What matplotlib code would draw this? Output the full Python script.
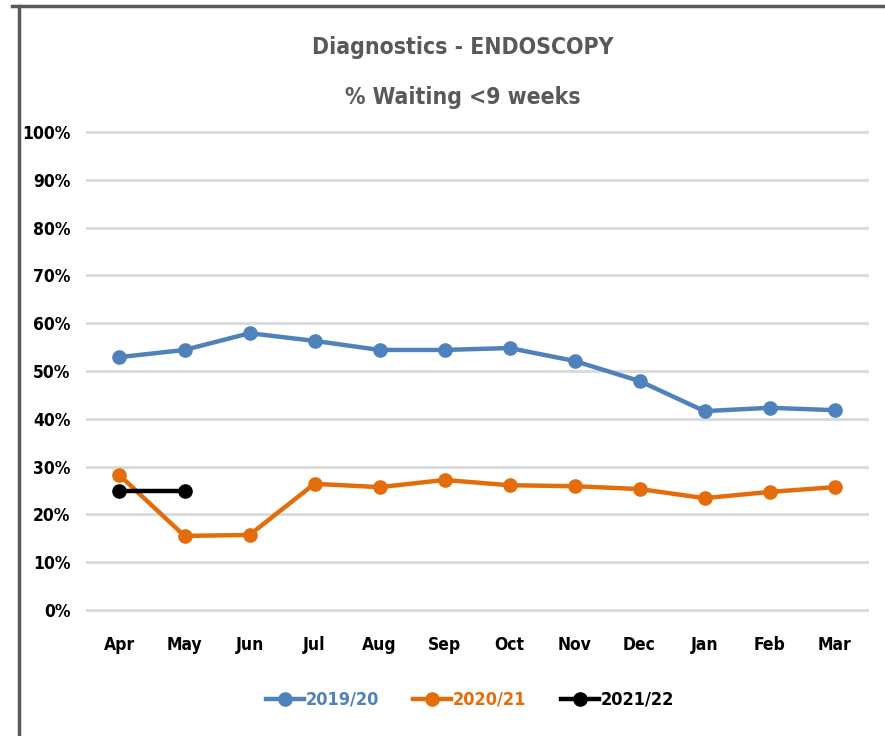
import matplotlib.pyplot as plt
from matplotlib.lines import Line2D
from matplotlib.ticker import PercentFormatter

months = ["Apr", "May", "Jun", "Jul", "Aug", "Sep", "Oct", "Nov", "Dec", "Jan", "Feb", "Mar"]
y2019 = [52.9, 54.4, 57.9, 56.3, 54.4, 54.4, 54.8, 52.1, 47.9, 41.6, 42.3, 41.8]
y2020 = [28.2, 15.5, 15.7, 26.4, 25.7, 27.2, 26.1, 25.9, 25.3, 23.4, 24.7, 25.7]
y2021 = [24.9, 24.9]

series = [("2019/20", y2019, "#4f81bd"), ("2020/21", y2020, "#e46c0a"), ("2021/22", y2021, "#000000")]

plt.rcParams["font.family"] = ["DejaVu Sans"]
plt.rcParams["font.stretch"] = "condensed"

fig = plt.figure(figsize=(8.85, 7.36), dpi=100)
ax = fig.add_axes([0.0983, 0.1712, 0.8814, 0.6495])

x = list(range(len(months)))
for name, vals, col in series:
    ax.plot(x[:len(vals)], vals, color=col, lw=3.2, marker="o", markersize=9.5, label=name)

ax.set_xlim(-0.5, 11.5)
ax.set_ylim(0, 100)
ax.set_yticks(range(0, 101, 10))
ax.yaxis.set_major_formatter(PercentFormatter(decimals=0))
ax.set_xticks(x)
ax.set_xticklabels(months)
ax.grid(axis="y", color="#d9d9d9", lw=2)
for gl in ax.get_ygridlines():
    gl.set_clip_on(False)
ax.set_axisbelow(True)
for s in ax.spines.values():
    s.set_visible(False)
ax.tick_params(length=0, labelsize=12.5)
ax.tick_params(axis="y", pad=12)
ax.tick_params(axis="x", pad=19)
for lab in ax.get_xticklabels() + ax.get_yticklabels():
    lab.set_fontweight("bold")

fig.text(0.523, 0.936, "Diagnostics - ENDOSCOPY", ha="center", va="center",
         fontsize=16.5, fontweight="bold", color="#595959")
fig.text(0.523, 0.868, "% Waiting <9 weeks", ha="center", va="center",
         fontsize=16.5, fontweight="bold", color="#595959")

leg = ax.legend(loc="center", bbox_to_anchor=(0.491, -0.188), ncol=3, frameon=False,
                prop={"size": 13, "weight": "bold"}, handlelength=2.1, columnspacing=1.9,
                handletextpad=0.1)
for t, (_, _, col) in zip(leg.get_texts(), series):
    t.set_color(col)

# chart border (top and left edges)
fig.add_artist(Line2D([0.014, 1.0], [0.992, 0.992], color="#595959", lw=2.5, transform=fig.transFigure))
fig.add_artist(Line2D([0.021, 0.021], [0.0, 0.992], color="#595959", lw=2.5, transform=fig.transFigure))

fig.savefig("out.png", dpi=100)
